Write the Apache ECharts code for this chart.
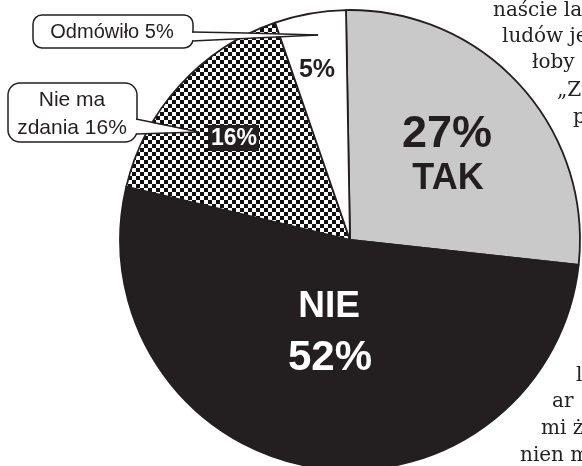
<!DOCTYPE html>
<html>
<head>
<meta charset="utf-8">
<script src="https://cdn.jsdelivr.net/npm/echarts@6/dist/echarts.min.js"></script>
<style>
  html, body { margin: 0; padding: 0; background: #fff; }
  #chart { width: 582px; height: 466px; }
</style>
</head>
<body>
<div id="chart"></div>
<script>
// dane ankiety
const categories = ['TAK', 'NIE', 'Nie ma zdania', 'Odmówiło']
const values = [27, 52, 16, 5]

// fragmenty tekstu ze skanu strony (prawa krawędź), y = linia bazowa
const pageLines = [
  { text: 'naście la', x: 493, y: 12 },
  { text: 'ludów je', x: 502, y: 38 },
  { text: 'łoby', x: 532, y: 64 },
  { text: '„Z', x: 557, y: 92 },
  { text: 'p', x: 573, y: 119 },
  { text: 'l', x: 576, y: 377 },
  { text: 'ar', x: 552, y: 403 },
  { text: 'mi ż', x: 541, y: 430 },
  { text: 'nien m', x: 520, y: 457 }
]

const ink = '#231f20'
const sans = 'Liberation Sans'

// wzór szachownicy dla "Nie ma zdania"
const makeChecker = () => {
  const c = document.createElement('canvas')
  c.width = 8
  c.height = 8
  const ctx = c.getContext('2d')
  ctx.fillStyle = '#fff'
  ctx.fillRect(0, 0, 8, 8)
  ctx.fillStyle = '#111'
  ctx.fillRect(0, 0, 4, 4)
  ctx.fillRect(4, 4, 4, 4)
  return c
}

const sliceColors = ['#c9c9c9', ink, { image: makeChecker(), repeat: 'repeat' }, '#ffffff']

const chart = echarts.init(document.getElementById('chart'))

const pct = (i) => values[i] + '%'

const txt = (text, x, y, size, color, bold, z) => ({
  type: 'text',
  z: z || 20,
  style: {
    text,
    x,
    y,
    fill: color,
    fontFamily: sans,
    fontSize: size,
    fontWeight: bold ? 'bold' : 'normal',
    align: 'center',
    verticalAlign: 'middle'
  }
})

const graphics = []

// etykiety na wycinkach
graphics.push(txt(pct(0), 447, 135, 45, ink, true))
graphics.push(txt(categories[0], 448, 179, 36, ink, true))
graphics.push(txt(categories[1].toUpperCase(), 329, 307, 37, '#fff', true))
graphics.push(txt(pct(1), 330, 358, 42, '#fff', true))
graphics.push(txt(pct(3), 317, 70, 25, ink, true))
graphics.push({
  type: 'rect', z: 19,
  shape: { x: 208, y: 125, width: 51, height: 26 },
  style: { fill: ink }
})
graphics.push(txt(pct(2), 234, 139, 23, '#fff', true))

// dymek "Odmówiło 5%"
graphics.push({
  type: 'rect', z: 20,
  shape: { x: 33, y: 15, width: 160, height: 33, r: 9 },
  style: { fill: '#fff', stroke: ink, lineWidth: 1.5 }
})
graphics.push({
  type: 'polygon', z: 21,
  shape: { points: [[191, 32.5], [246, 33], [318, 35], [191, 40.5]] },
  style: { fill: '#fff' }
})
graphics.push({
  type: 'polyline', z: 22,
  shape: { points: [[192, 32], [246, 33], [318, 35]] },
  style: { stroke: ink, lineWidth: 1.3, fill: null }
})
graphics.push({
  type: 'polyline', z: 22,
  shape: { points: [[192, 41], [318, 35]] },
  style: { stroke: ink, lineWidth: 1.3, fill: null }
})
graphics.push(txt(categories[3] + ' ' + pct(3), 112, 32, 20, ink, false, 23))

// dymek "Nie ma zdania 16%"
graphics.push({
  type: 'rect', z: 20,
  shape: { x: 8, y: 83, width: 129, height: 59, r: 12 },
  style: { fill: '#fff', stroke: ink, lineWidth: 1.5 }
})
graphics.push({
  type: 'polygon', z: 21,
  shape: { points: [[135, 119.5], [198, 132], [135, 133.5]] },
  style: { fill: '#fff' }
})
graphics.push({
  type: 'polyline', z: 22,
  shape: { points: [[136, 119], [199, 132]] },
  style: { stroke: ink, lineWidth: 1.3, fill: null }
})
graphics.push({
  type: 'polyline', z: 22,
  shape: { points: [[136, 134], [199, 132]] },
  style: { stroke: ink, lineWidth: 1.3, fill: null }
})
const bubble = txt('Nie ma\nzdania ' + pct(2), 72, 114, 21, ink, false, 23)
bubble.style.lineHeight = 28
graphics.push(bubble)

// tekst strony w tle
pageLines.forEach(l => {
  graphics.push({
    type: 'text', z: 5,
    style: {
      text: l.text, x: l.x, y: l.y + 9,
      fill: '#222', fontFamily: 'DejaVu Serif', fontSize: 20,
      align: 'left', verticalAlign: 'bottom'
    }
  })
})

chart.setOption({
  animation: false,
  backgroundColor: '#fff',
  series: [{
    type: 'pie',
    center: [350, 240],
    radius: 230,
    startAngle: 91,
    clockwise: true,
    silent: true,
    label: { show: false },
    labelLine: { show: false },
    emphasis: { disabled: true },
    itemStyle: { borderColor: ink, borderWidth: 1.8 },
    data: categories.map((name, i) => ({
      name,
      value: values[i],
      itemStyle: { color: sliceColors[i] }
    }))
  }],
  graphic: graphics
})
</script>
</body>
</html>
